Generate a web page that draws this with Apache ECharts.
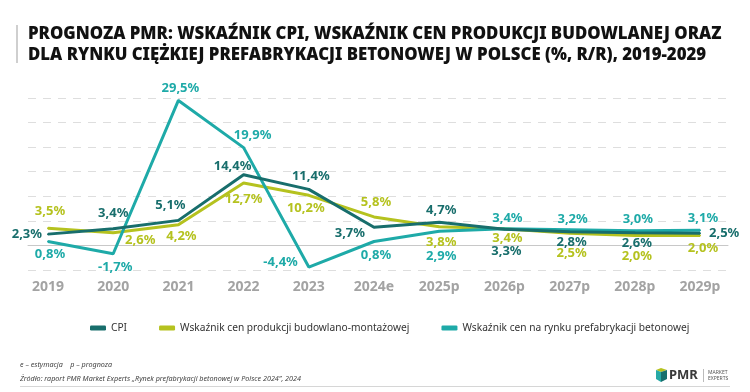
<!DOCTYPE html>
<html>
<head>
<meta charset="utf-8">
<script src="https://cdn.jsdelivr.net/npm/echarts@6/dist/echarts.min.js"></script>
<style>html,body{margin:0;padding:0;background:#fff}#c{width:750px;height:392px}</style>
</head>
<body>
<div id="c"></div>
<script>
const years = ['2019','2020','2021','2022','2023','2024e','2025p','2026p','2027p','2028p','2029p'];
const cpi = [2.3, 3.4, 5.1, 14.4, 11.4, 3.7, 4.7, 3.3, 2.8, 2.6, 2.5];
const construction = [3.5, 2.6, 4.2, 12.7, 10.2, 5.8, 3.8, 3.4, 2.5, 2.0, 2.0];
const prefab = [0.8, -1.7, 29.5, 19.9, -4.4, 0.8, 2.9, 3.4, 3.2, 3.0, 3.1];
const yTicks = {min: -5, max: 30, interval: 5};
const seriesNames = ['CPI', 'Wskaźnik cen produkcji budowlano-montażowej', 'Wskaźnik cen na rynku prefabrykacji betonowej'];

// label placement per point: [position, distance, dx, dy]
const cpiLab = [['left',5,0,0],['top',8,0,0],['top',8,-8,0],['top',1,-11,0],['top',6,2,0],['left',8,0,6],['top',5,2,0],['bottom',15,2,0],['bottom',3,2,0],['bottom',3,2,0],['right',8,0,0]];
const conLab = [['top',9,2,0],['bottom',0,27,0],['bottom',4,3,0],['bottom',9,0,0],['bottom',5,-3,0],['top',7,2,0],['bottom',8,2,0],['bottom',2,3,0],['bottom',13,2,0],['bottom',13,2,0],['bottom',5,3,0]];
const preLab = [['bottom',5,2,0],['bottom',6,2,0],['top',5,2,0],['top',5,9,0],['left',10,0,-5],['bottom',6,2,0],['bottom',18,2,0],['top',3,3,0],['top',3,3,0],['top',4,3,0],['top',4,3,0]];

const colors = ['#186e6c', '#b5c21f', '#1eaaa8'];
const fmt = v => v.toFixed(1).replace('.', ',') + '%';

function mkData(vals, labs, color) {
  return vals.map((v, i) => ({
    value: v,
    label: {
      show: true,
      position: labs[i][0],
      distance: labs[i][1],
      offset: [labs[i][2], labs[i][3]],
      formatter: fmt(v),
      color: color,
      fontFamily: 'Noto Sans',
      fontWeight: 'bold',
      fontSize: 13
    }
  }));
}

const chart = echarts.init(document.getElementById('c'), null, {renderer: 'canvas'});
const mkSeries = (name, vals, labs, color, z) => ({
  name: name,
  type: 'line',
  xAxisIndex: 1,
  yAxisIndex: 1,
  data: mkData(vals, labs, color),
  symbol: 'circle',
  symbolSize: 2,
  showSymbol: true,
  lineStyle: {width: 3, color: color},
  itemStyle: {color: color},
  z: z,
  animation: false,
  emphasis: {disabled: true}
});

chart.setOption({
  animation: false,
  title: {
    text: 'PROGNOZA PMR: WSKAŹNIK CPI, WSKAŹNIK CEN PRODUKCJI BUDOWLANEJ ORAZ\nDLA RYNKU CIĘŻKIEJ PREFABRYKACJI BETONOWEJ W POLSCE (%, R/R), 2019-2029',
    left: 28,
    top: 24,
    padding: 0,
    textStyle: {fontFamily: 'Noto Sans', fontWeight: 900, fontSize: 16.8, color: '#111', lineHeight: 21}
  },
  legend: {
    left: 85,
    top: 318,
    itemWidth: 16,
    itemHeight: 5,
    itemGap: 32,
    icon: 'roundRect',
    data: seriesNames,
    textStyle: {fontFamily: 'Noto Sans', fontSize: 10.2, color: '#333'}
  },
  grid: [
    {left: 28, right: 22, top: 98, bottom: 122},
    {left: 48, right: 50, top: 98, bottom: 122}
  ],
  xAxis: [
    {gridIndex: 0, type: 'value', min: 0, max: 1,
     axisLabel: {show: false}, axisTick: {show: false}, splitLine: {show: false},
     axisLine: {show: true, onZero: true, lineStyle: {color: '#c8c8c8', width: 1}}},
    {gridIndex: 1, type: 'category', data: years, boundaryGap: false,
     axisLine: {show: false}, axisTick: {show: false},
     axisLabel: {margin: 10, color: '#a3a3a3', fontFamily: 'Noto Sans', fontWeight: 'bold', fontSize: 14}}
  ],
  yAxis: [
    {gridIndex: 0, type: 'value', min: yTicks.min, max: yTicks.max, interval: yTicks.interval,
     axisLabel: {show: false}, axisTick: {show: false}, axisLine: {show: false},
     splitLine: {show: true, lineStyle: {color: '#dedede', width: 1, type: [8, 7]}}},
    {gridIndex: 1, type: 'value', min: yTicks.min, max: yTicks.max, interval: yTicks.interval, show: false,
     splitLine: {show: false}}
  ],
  series: [
    mkSeries(seriesNames[0], cpi, cpiLab, colors[0], 5),
    mkSeries(seriesNames[1], construction, conLab, colors[1], 3),
    mkSeries(seriesNames[2], prefab, preLab, colors[2], 4)
  ],
  graphic: [
    {type: 'rect', shape: {x: 16, y: 25, width: 2, height: 38}, style: {fill: '#cfcfcf'}},
    {type: 'text', left: 20, top: 361, style: {text: 'e – estymacja    p – prognoza', font: 'italic 7.2px "Noto Sans"', fill: '#444'}},
    {type: 'text', left: 20, top: 375, style: {text: 'Źródło: raport PMR Market Experts „Rynek prefabrykacji betonowej w Polsce 2024”, 2024', font: 'italic 7.2px "Noto Sans"', fill: '#444'}},
    {type: 'rect', shape: {x: 20, y: 386, width: 710, height: 1}, style: {fill: '#d6d6d6'}},
    {type: 'polygon', shape: {points: [[656,370],[661,368],[667,370],[661,372]]}, style: {fill: '#b5c21f'}},
    {type: 'polygon', shape: {points: [[656,370],[661,372],[661,382],[656,379]]}, style: {fill: '#27a9a6'}},
    {type: 'polygon', shape: {points: [[661,372],[667,370],[667,379],[661,382]]}, style: {fill: '#17706e'}},
    {type: 'text', left: 669, top: 369, style: {text: 'PMR', font: 'bold 13px "Noto Sans"', fill: '#3a3a3a'}},
    {type: 'rect', shape: {x: 703, y: 369, width: 1, height: 13}, style: {fill: '#bbb'}},
    {type: 'text', left: 708, top: 370, style: {text: 'MARKET\nEXPERTS', font: '5px "Noto Sans"', fill: '#555', lineHeight: 6}}
  ]
});
</script>
</body>
</html>
